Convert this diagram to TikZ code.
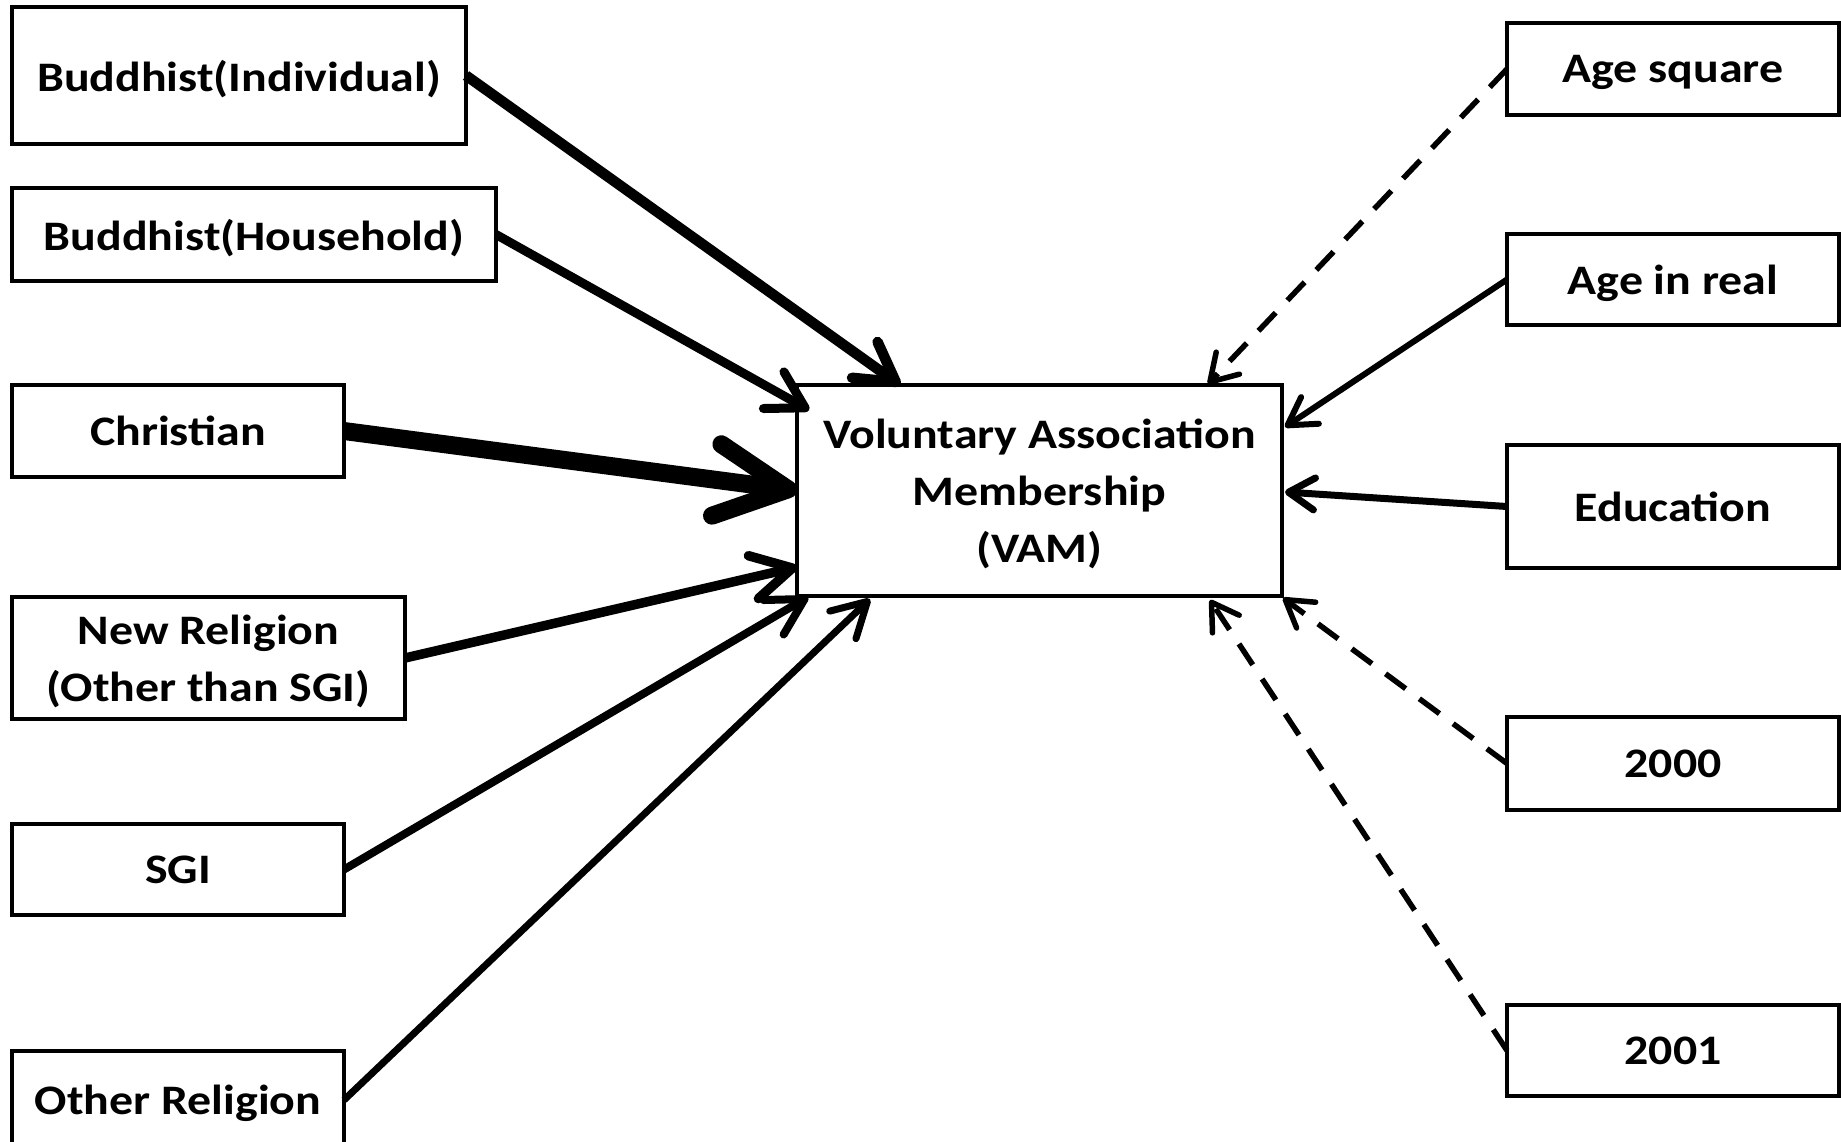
\documentclass[tikz,border=0pt]{standalone}
\usepackage{fontspec}
\setmainfont{Carlito}[FakeStretch=1.14]
\usetikzlibrary{arrows.meta,calc}
\begin{document}
\begin{tikzpicture}[x=1pt,y=-1pt,
  box/.style={draw, line width=4.3pt, rectangle, inner sep=0pt, outer sep=0pt, align=center,
    text depth=0pt, font=\fontsize{42}{57}\selectfont\bfseries},
  conn/.style={line width=#1, line cap=butt, line join=round},
  dsh/.style={dash pattern=on 25pt off 17pt},
  tip/.style 2 args={-{Straight Barb[length=#1pt,width=#2pt,round]}}
]
\useasboundingbox (0,0) rectangle (1841,1141);
% left column
\node[box, minimum width=454pt, minimum height=137pt] (bi) at (239,75.5) {Buddhist(Individual)};
\node[box, minimum width=484pt, minimum height=93pt] (bh) at (254,234.5) {Buddhist(Household)};
\node[box, minimum width=332pt, minimum height=92pt] (ch) at (178,431) {Christian};
\node[box, minimum width=393pt, minimum height=122pt] (nr) at (208.5,658) {New Religion\\(Other than SGI)};
\node[box, minimum width=332pt, minimum height=91pt] (sgi) at (178,869.5) {SGI};
\node[box, minimum width=332pt, minimum height=98pt] (ore) at (178,1100) {Other Religion};
% centre
\node[box, line width=4pt, minimum width=485pt, minimum height=211pt] (vam) at (1039.5,490.5)
  {Voluntary Association\\Membership\\(VAM)};
% right column
\node[box, minimum width=332pt, minimum height=92pt] (as) at (1673,69) {Age square};
\node[box, minimum width=332pt, minimum height=91pt] (air) at (1673,279.5) {Age in real};
\node[box, minimum width=332pt, minimum height=123pt] (ed) at (1673,506.5) {Education};
\node[box, minimum width=332pt, minimum height=93pt] (y2000) at (1673,763.5) {2000};
\node[box, minimum width=332pt, minimum height=91pt] (y2001) at (1673,1050.5) {2001};
% left connectors
\draw[conn=10.5pt, tip={38}{44}] (bi.east) -- ([xshift=103pt]vam.north west);
\draw[conn=9pt, tip={36}{42}] (bh.east) -- ([xshift=12pt,yshift=-25pt]vam.north west);
\draw[conn=18pt, tip={72}{72}] (ch.east) -- (vam.west);
\draw[conn=9.5pt, tip={40}{44}] (nr.east) -- ([yshift=29pt]vam.south west);
\draw[conn=8pt, tip={36}{40}] (sgi.east) -- ([xshift=11pt,yshift=-1pt]vam.south west);
\draw[conn=7pt, tip={34}{38}] (ore.east) -- ([xshift=73pt,yshift=-3pt]vam.south west);
% right connectors
\draw[conn=5.5pt, dsh, tip={26}{32}] (as.west) -- ([xshift=-74pt,yshift=1pt]vam.north east);
\draw[conn=6pt, tip={27}{32}] (air.west) -- ([xshift=3pt,yshift=-42pt]vam.north east);
\draw[conn=7pt, tip={26}{32}] (ed.west) -- ([xshift=3pt,yshift=-107pt]vam.north east);
\draw[conn=5.5pt, dsh, tip={26}{32}] (y2000.west) -- ([xshift=1pt,yshift=-2pt]vam.south east);
\draw[conn=5.5pt, dsh, tip={26}{32}] (y2001.west) -- ([xshift=-72pt,yshift=-4pt]vam.south east);
\end{tikzpicture}
\end{document}
